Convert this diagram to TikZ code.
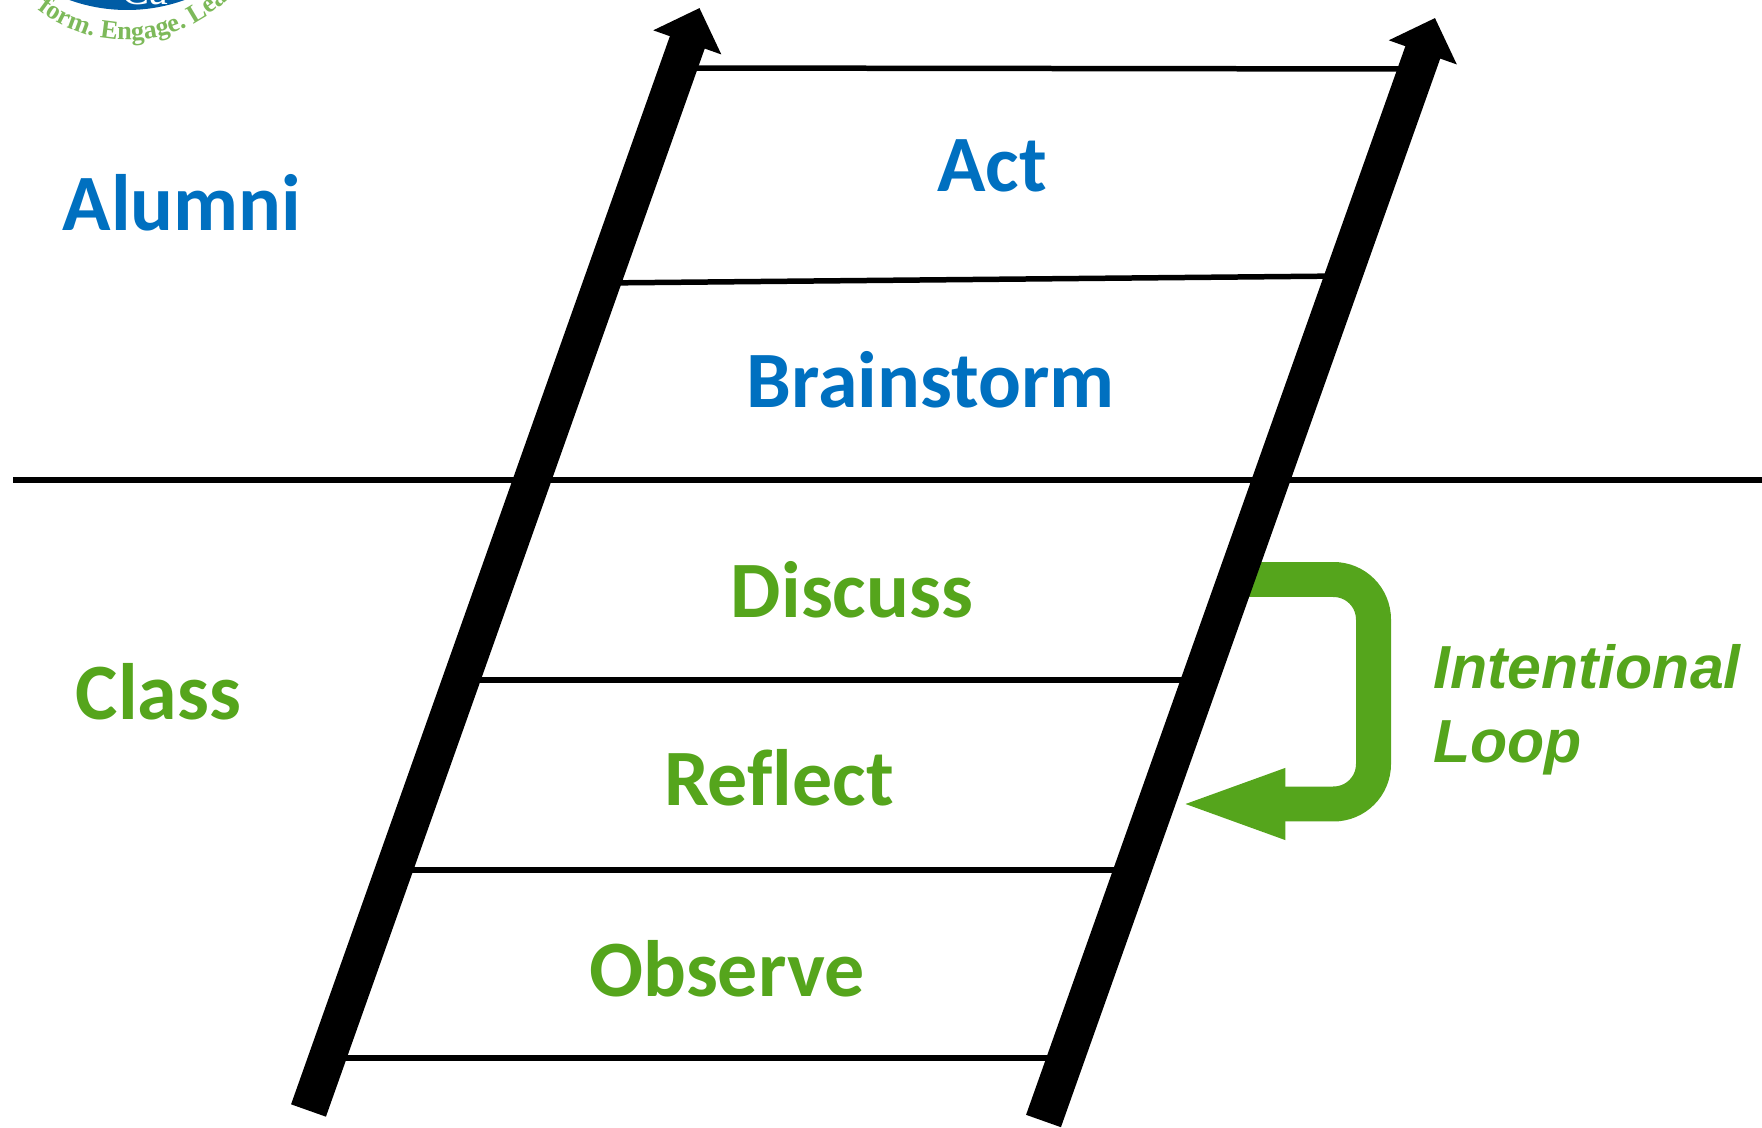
\documentclass[tikz,border=0pt]{standalone}
\usepackage{fontspec}
\setmainfont[Ligatures=NoCommon]{Carlito}
\newfontfamily\loopfont{Liberation Sans}
\newfontfamily\logofont{Liberation Serif}
\usetikzlibrary{arrows.meta,decorations.text}
\definecolor{alumniblue}{RGB}{0,112,192}
\definecolor{classgreen}{RGB}{85,165,28}
\definecolor{logogreen}{RGB}{125,185,90}
\definecolor{logoblue}{RGB}{0,92,165}
\tikzset{
  {rail/.style} ={draw,line width=.74cm,-{Triangle[length=.73cm,width=1.4cm]}},
  {rung/.style} ={draw,line width=.11cm},
  {loop arrow/.style} ={draw=classgreen,line width=.7cm,rounded corners=.8cm,
                  -{Triangle[length=2.21cm,width=1.24cm]}},
  {word/.style} ={anchor=base,inner sep=0,font=\fontsize{45.5}{45.5}\selectfont\bfseries},
  {blue word/.style} ={word,text=alumniblue},
  {green word/.style} ={word,text=classgreen},
}

\begin{document}
\begin{tikzpicture}[x=.02cm,y=-.02cm]
    \useasboundingbox (0,0) rectangle (1762,1128);
    % logo, cut by the page
    \begin{scope}
      \clip (0,0) rectangle (1762,1128);
      \fill[logoblue] (127,-160) circle[radius=170];
      \node[anchor=base,inner sep=0,text=white,font=\logofont\fontsize{24}{24}\selectfont] (logoname) at (145,5) {Ca};
      \path[postaction={decorate,decoration={text along path,text align=center,
        text={|\logofont\fontsize{15}{15}\selectfont\bfseries\color{logogreen}|form. Engage. Lea}}}]
        (127,-105) ++(147:145) arc[start angle=147,end angle=27,radius=145];
    \end{scope}
    % level line and rungs
    \coordinate (levelL) at (13,480);
    \coordinate (levelR) at (1762,480);
    \draw[rung] (levelL) -- (levelR);
    \foreach \name/\xl/\yl/\xr/\yr in {act/678/68/1418/69,brain/602/283/1344/276,
        reflect/461/680/1194/680,observe/394/870/1131/870,base/327/1058/1066/1058}{
      \coordinate (\name L) at (\xl,\yl);
      \coordinate (\name R) at (\xr,\yr);
      \draw[rung] (\name L) -- (\name R);
    }
    % green loop goes under the right rail
    \coordinate (loopstart) at (1230,579.5);
    \coordinate (looptip) at (1175,804);
    \draw[loop arrow] (loopstart) -- (1373.5,579.5) -- (1373.5,804) -- (looptip);
    % rails
    \coordinate (leftfoot) at (308.5,1110.5);
    \coordinate (lefttip) at (699.5,8);
    \coordinate (rightfoot) at (1043.5,1121);
    \coordinate (righttip) at (1435,18);
    \draw[rail] (leftfoot) -- (lefttip);
    \draw[rail] (rightfoot) -- (righttip);
    % words
    \node[blue word] (alumni) at (182,231) {Alumni};
    \node[green word] (class) at (158.5,719) {Class};
    \node[blue word] (act) at (992,192) {Act};
    \node[blue word] (brainstorm) at (930.5,407.5) {Brainstorm};
    \node[green word] (discuss) at (852,617.5) {Discuss};
    \node[green word] (reflect) at (779,805.5) {Reflect};
    \node[green word] (observe) at (727,996.5) {Observe};
    \node[anchor=west,inner sep=0,align=left,text=classgreen,
      font=\loopfont\fontsize{34.6}{42}\selectfont\bfseries\itshape] (looplabel) at (1433,709.5) {Intentional\\Loop};
\end{tikzpicture}
\end{document}
